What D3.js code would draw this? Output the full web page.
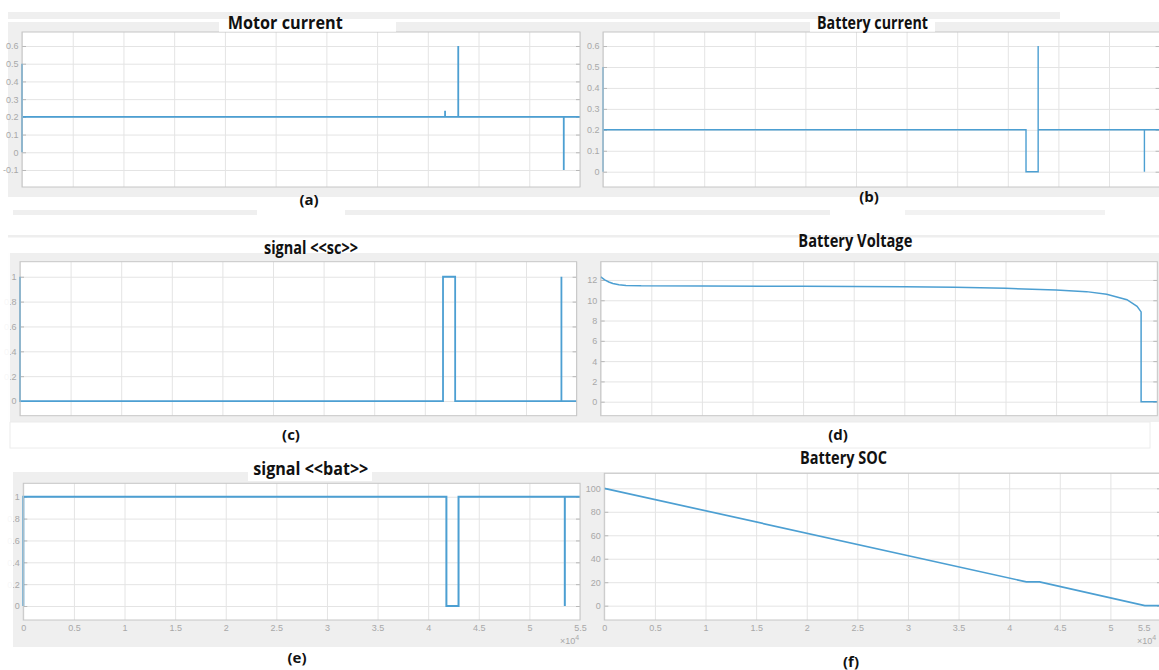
<!DOCTYPE html>
<html>
<head>
<meta charset="utf-8">
<script src="https://cdn.jsdelivr.net/npm/d3@7/dist/d3.min.js"></script>
<style>
  body { margin: 0; background: #fff; }
  svg { display: block; }
  .grid line { stroke: #e4e4e4; }
  .grid path { display: none; }
  .marks line { stroke: #b8b8b8; }
  .marks path { display: none; }
  .ylab path, .ylab line, .xlab path, .xlab line { display: none; }
  .ylab text, .xlab text, .exp { fill: #a8a8a8; font-family: "Liberation Sans", Arial, sans-serif; font-size: 9px; }
  .title { font-family: "Open Sans", Lato, sans-serif; font-weight: bold; font-size: 17px; fill: #111; }
  .plabel { font-family: "Open Sans", Lato, sans-serif; font-weight: bold; font-size: 15px; fill: #111; }
</style>
</head>
<body>
<svg width="1159" height="670"></svg>
<script>
// shared time axis, 0 .. 5.5e4 s
const xTicks = [0, 5000, 10000, 15000, 20000, 25000, 30000, 35000, 40000, 45000, 50000, 55000];
const xTickLabels = ["0", "0.5", "1", "1.5", "2", "2.5", "3", "3.5", "4", "4.5", "5", "5.5"];

// (a) motor current
const motorTime    = [0, 0, 0, 41700, 41700, 41700, 43000, 43000, 43000, 53400, 53400, 53400, 55000];
const motorCurrent = [0, 0.5, 0.2, 0.2, 0.234, 0.2, 0.2, 0.6, 0.2, 0.2, -0.1, 0.2, 0.2];
const motorTicks   = [-0.1, 0, 0.1, 0.2, 0.3, 0.4, 0.5, 0.6];
const motorLabels  = ["-0.1", "0", "0.1", "0.2", "0.3", "0.4", "0.5", "0.6"];

// (b) battery current
const batCurTime   = [0, 0, 0, 41800, 41800, 43000, 43000, 43000, 53500, 53500, 53500, 55000];
const batCurrent   = [0, 0.5, 0.2, 0.2, 0, 0, 0.6, 0.2, 0.2, 0, 0.2, 0.2];
const batCurTicks  = [0, 0.1, 0.2, 0.3, 0.4, 0.5, 0.6];
const batCurLabels = ["0", "0.1", "0.2", "0.3", "0.4", "0.5", "0.6"];

// (c) signal <<sc>>
const scTime   = [0, 0, 41800, 41800, 43000, 43000, 53500, 53500, 53500, 55000];
const scSignal = [1, 0, 0, 1, 1, 0, 0, 1, 0, 0];
const sigTicks  = [0, 0.2, 0.4, 0.6, 0.8, 1];
const sigLabels = ["0", "0.2", "0.4", "0.6", "0.8", "1"];

// (d) battery voltage
const voltTime   = [0, 400, 800, 1200, 1800, 2500, 4000, 10000, 20000, 30000, 35000, 40000, 45000, 48000, 50000, 52000, 53000, 53400, 53400, 55000];
const voltage    = [12.3, 12.0, 11.8, 11.65, 11.52, 11.46, 11.42, 11.4, 11.37, 11.32, 11.27, 11.18, 11.0, 10.85, 10.6, 10.05, 9.4, 8.85, 0, 0];
const voltTicks  = [0, 2, 4, 6, 8, 10, 12];
const voltLabels = ["0", "2", "4", "6", "8", "10", "12"];

// (e) signal <<bat>>
const batSigTime = [0, 0, 41800, 41800, 43000, 43000, 53500, 53500, 53500, 55000];
const batSignal  = [0, 1, 1, 0, 0, 1, 1, 0, 1, 1];

// (f) battery SOC
const socTime   = [0, 41700, 43000, 53400, 55000];
const soc       = [100, 20.3, 20.3, 0, 0];
const socTicks  = [0, 20, 40, 60, 80, 100];
const socLabels = ["0", "20", "40", "60", "80", "100"];

const svg = d3.select("svg");
const blue = "#4c9fd2";

// figure background pieces (the picture is a pasted screenshot collage)
function box(x, y, w, h, fill) {
  return svg.append("rect").attr("x", x).attr("y", y).attr("width", w).attr("height", h).attr("fill", fill);
}
box(8, 12, 1052, 7, "#efefef");
box(8, 22, 1151, 175, "#efefef");
box(13, 210, 244, 5, "#efefef");
box(345, 210, 485, 5, "#efefef");
box(905, 210, 200, 5, "#f2f2f2");
box(8, 235, 1151, 2.5, "#eeeeee");
box(8, 253, 1151, 169, "#efefef");
box(10, 422, 1140, 26, "#fff").attr("stroke", "#ececec");
box(13, 472, 1146, 175, "#efefef");

const panels = [
  { t: motorTime, v: motorCurrent, ticks: motorTicks, labels: motorLabels, left: 22, right: 580, top: 32, bottom: 187, yDomain: [-0.196, 0.679], width: 1.8 },
  { t: batCurTime, v: batCurrent, ticks: batCurTicks, labels: batCurLabels, left: 603, right: 1159.6, top: 32, bottom: 187, yDomain: [-0.073, 0.667], width: 1.4 },
  { t: scTime, v: scSignal, ticks: sigTicks, labels: sigLabels, left: 20, right: 576.6, top: 261.7, bottom: 415.7, yDomain: [-0.118, 1.121], width: 1.8 },
  { t: voltTime, v: voltage, ticks: voltTicks, labels: voltLabels, left: 600.7, right: 1157.3, top: 261.7, bottom: 415.7, yDomain: [-1.38, 13.8], width: 1.5 },
  { t: batSigTime, v: batSignal, ticks: sigTicks, labels: sigLabels, left: 23.3, right: 580, top: 483.3, bottom: 620, yDomain: [-0.128, 1.123], width: 2, xlab: true },
  { t: socTime, v: soc, ticks: socTicks, labels: socLabels, left: 604.3, right: 1161, top: 473.3, bottom: 620, yDomain: [-12.2, 112.8], width: 1.7, xlab: true }
];

panels.forEach(p => {
  const x = d3.scaleLinear().domain([0, 55000]).range([p.left, p.right]);
  const y = d3.scaleLinear().domain(p.yDomain).range([p.bottom, p.top]);
  const w = p.right - p.left, h = p.bottom - p.top;
  const g = svg.append("g");

  g.append("rect").attr("x", p.left).attr("y", p.top).attr("width", w).attr("height", h).attr("fill", "#fff");

  // grid
  g.append("g").attr("class", "grid").attr("transform", `translate(0,${p.bottom})`)
    .call(d3.axisBottom(x).tickValues(xTicks).tickSize(-h).tickFormat(""));
  g.append("g").attr("class", "grid").attr("transform", `translate(${p.left},0)`)
    .call(d3.axisLeft(y).tickValues(p.ticks).tickSize(-w).tickFormat(""));

  // little inward tick marks, left and right
  g.append("g").attr("class", "marks").attr("transform", `translate(${p.left},0)`)
    .call(d3.axisLeft(y).tickValues(p.ticks).tickSize(-4).tickFormat(""));
  g.append("g").attr("class", "marks").attr("transform", `translate(${p.right},0)`)
    .call(d3.axisRight(y).tickValues(p.ticks).tickSize(-4).tickFormat(""));

  // y labels
  g.append("g").attr("class", "ylab").attr("transform", `translate(${p.left},0)`)
    .call(d3.axisLeft(y).tickValues(p.ticks).tickSize(0).tickPadding(3.5).tickFormat((d, i) => p.labels[i]));

  if (p.xlab) {
    const xa = g.append("g").attr("class", "xlab").attr("transform", `translate(0,${p.bottom})`)
      .call(d3.axisBottom(x).tickValues(xTicks).tickSize(0).tickPadding(5).tickFormat((d, i) => xTickLabels[i]));
    // keep labels that would fall off the window inside it
    xa.selectAll(".tick text").filter(d => x(d) > 1150).attr("text-anchor", "end").attr("dx", 1150 - x(55000));
    const e = g.append("text").attr("class", "exp").attr("x", Math.min(x(55000), 1157) - 20).attr("y", p.bottom + 24);
    e.append("tspan").text("\u00d710");
    e.append("tspan").attr("dy", -4).style("font-size", "7px").text("4");
  }

  const line = d3.line().x(d => x(d[0])).y(d => y(d[1]));
  g.append("path").datum(d3.zip(p.t, p.v))
    .attr("d", line).attr("fill", "none").attr("stroke", blue).attr("stroke-width", p.width);

  g.append("rect").attr("x", p.left).attr("y", p.top).attr("width", w).attr("height", h)
    .attr("fill", "none").attr("stroke", "#c6c6c6");
});

// cut-off left edges of the screenshot
box(0, 253, 10, 169, "#fff").attr("opacity", 0.9);
box(0, 472, 13, 175, "#fff").attr("opacity", 0.9);

// titles with their white label boxes
const titles = [
  { text: "Motor current",   x: 227.7, y: 28.5, len: 115,  bx: [219, 19, 177, 12.7] },
  { text: "Battery current", x: 817,   y: 28.5, len: 111,  bx: [810, 19, 125, 12.7] },
  { text: "signal <<sc>>",   x: 264,   y: 253.5, len: 94,  bx: [254, 238, 112, 15] },
  { text: "Battery Voltage", x: 798.3, y: 247, len: 114, bx: [790, 238, 130, 15] },
  { text: "signal <<bat>>",  x: 253.3, y: 474.5,  len: 115,  bx: [248, 472, 124, 9] },
  { text: "Battery SOC",     x: 800,   y: 463.5, len: 87,  bx: [795, 452, 97, 14] }
];
titles.forEach(t => {
  box(t.bx[0], t.bx[1], t.bx[2], t.bx[3], "#fff");
  svg.append("text").attr("class", "title").attr("x", t.x).attr("y", t.y)
    .attr("textLength", t.len).attr("lengthAdjust", "spacingAndGlyphs").text(t.text);
});

const plabels = [["(a)", 309, 205], ["(b)", 869, 202], ["(c)", 291, 440], ["(d)", 838, 440], ["(e)", 297, 663], ["(f)", 851, 667]];
plabels.forEach(l => {
  svg.append("text").attr("class", "plabel").attr("x", l[1]).attr("y", l[2])
    .attr("text-anchor", "middle").text(l[0]);
});
</script>
</body>
</html>
